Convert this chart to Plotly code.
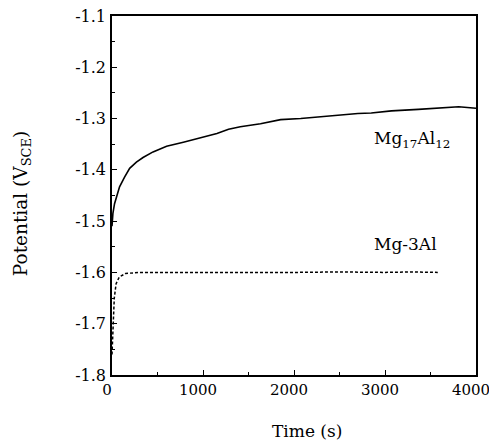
import plotly.graph_objects as go

# Mg17Al12 open-circuit potential vs time
t_mg17 = [0, 10, 28, 55, 83, 138, 194, 268, 341, 451, 600, 784, 968, 1153, 1281,
          1410, 1632, 1853, 2074, 2296, 2517, 2702, 2849, 3071, 3366, 3588, 3810, 4000]
v_mg17 = [-1.51, -1.485, -1.466, -1.448, -1.433, -1.414, -1.397, -1.385, -1.376, -1.365,
          -1.354, -1.346, -1.337, -1.329, -1.321, -1.316, -1.310, -1.302, -1.300, -1.296,
          -1.292, -1.290, -1.289, -1.285, -1.282, -1.280, -1.277, -1.280]

# Mg-3Al
t_mg3 = [0, 10, 25, 45, 80, 150, 300, 600, 1000, 1500, 2000, 2500, 3000, 3300, 3580]
v_mg3 = [-1.76, -1.70, -1.65, -1.622, -1.609, -1.602, -1.600, -1.600, -1.600, -1.601,
         -1.600, -1.599, -1.600, -1.599, -1.600]

x_ticks = [0, 1000, 2000, 3000, 4000]
y_ticks = [-1.8, -1.7, -1.6, -1.5, -1.4, -1.3, -1.2, -1.1]

FONT = "DejaVu Serif"

fig = go.Figure()
fig.add_trace(go.Scatter(x=t_mg17, y=v_mg17, mode="lines",
                         line=dict(color="black", width=1.6), showlegend=False))
fig.add_trace(go.Scatter(x=t_mg3, y=v_mg3, mode="lines",
                         line=dict(color="black", width=1.5, dash="3px,2px"), showlegend=False))

axis_common = dict(showgrid=False, zeroline=False, showline=True, linecolor="black",
                   linewidth=1.6, mirror=True, ticks="inside", tickcolor="black",
                   tickwidth=1.3, ticklen=5, ticklabeloverflow="allow", automargin=False)

fig.update_xaxes(range=[0, 4000], tickvals=x_ticks, ticktext=[str(v) for v in x_ticks],
                 minor=dict(dtick=500, tick0=0, ticks="inside", ticklen=3, tickcolor="black", tickwidth=1.1),
                 ticklabelstandoff=0, ticklabelshift=-5,
                 tickfont=dict(family=FONT, size=15, color="black"), **axis_common)
fig.update_yaxes(range=[-1.8, -1.1], tickvals=y_ticks, ticktext=[f"{v:.1f}" for v in y_ticks],
                 minor=dict(dtick=0.05, tick0=-1.8, ticks="inside", ticklen=3, tickcolor="black", tickwidth=1.1),
                 ticklabelstandoff=1,
                 tickfont=dict(family=FONT, size=16, color="black"), **axis_common)

fig.add_annotation(x=3302, y=-1.340, xref="x", yref="y",
                   text="Mg<sub>17</sub>Al<sub>12</sub>", showarrow=False,
                   font=dict(family=FONT, size=17, color="black"), xanchor="center", yanchor="middle")
fig.add_annotation(x=3220, y=-1.545, xref="x", yref="y", text="Mg-3Al", showarrow=False,
                   font=dict(family=FONT, size=17, color="black"), xanchor="center", yanchor="middle")
fig.add_annotation(x=0.537, y=-0.156, xref="paper", yref="paper", text="Time (s)", showarrow=False,
                   font=dict(family=FONT, size=17, color="black"), xanchor="center", yanchor="middle")
fig.add_annotation(x=-0.247, y=0.476, xref="paper", yref="paper",
                   text="Potential (V<sub>SCE</sub>)", showarrow=False, textangle=-90,
                   font=dict(family=FONT, size=18.5, color="black"), xanchor="center", yanchor="middle")

fig.update_layout(width=489, height=446, paper_bgcolor="white", plot_bgcolor="white",
                  margin=dict(l=112, r=13, t=16, b=71, autoexpand=False), showlegend=False)

fig.write_html("out.html")
